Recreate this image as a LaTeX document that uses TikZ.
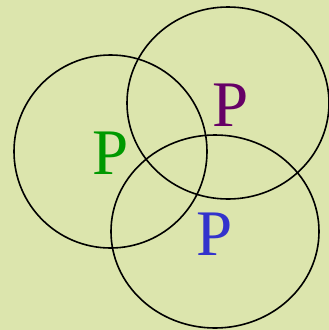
\documentclass[tikz,border=0pt]{standalone}
\usepackage{fontspec}
\setmainfont{Liberation Serif}
\usepackage{tikz}
\definecolor{venngreen}{HTML}{DCE5AD}
\definecolor{pgreen}{HTML}{009900}
\definecolor{ppurple}{HTML}{660066}
\definecolor{pblue}{HTML}{3333CC}

\begin{document}
\begin{tikzpicture}[x=1pt, y=-1pt, line width=1.6pt]
        \useasboundingbox (0, 0) rectangle (329, 330);
        \fill[venngreen] (0, 0) rectangle (329, 330);
        \coordinate (cl) at (110.5, 151.5);
        \coordinate (ct) at (228, 103);
        \coordinate (cb) at (215, 231.5);
        \draw (cl) ellipse [x radius=96.5, y radius=96.5];
        \draw (ct) ellipse [x radius=101, y radius=96];
        \draw (cb) ellipse [x radius=104, y radius=96.5];
        \node[pgreen, font=\fontsize{65}{65}\selectfont, inner sep=0pt] (pl) at (111, 153.5) {P};
        \node[ppurple, font=\fontsize{65}{65}\selectfont, inner sep=0pt] (pt) at (230.5, 105.5) {P};
        \node[pblue, font=\fontsize{65}{65}\selectfont, inner sep=0pt] (pb) at (215, 234.5) {P};
    \end{tikzpicture}
\end{document}
